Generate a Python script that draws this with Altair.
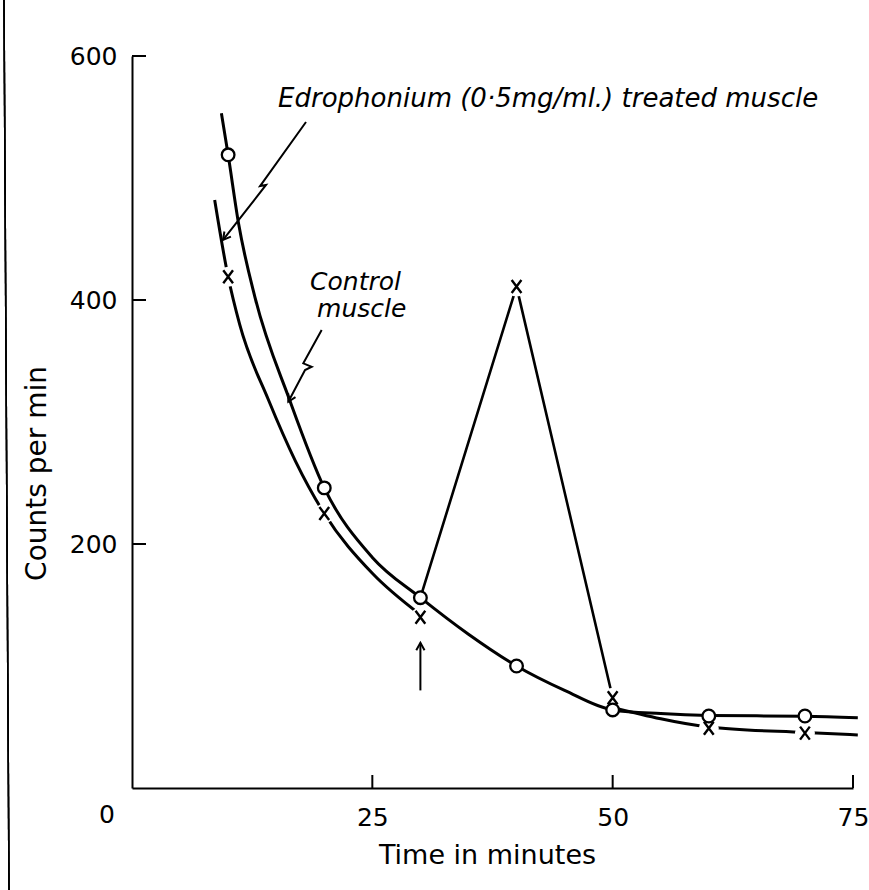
import altair as alt
import pandas as pd

# ---- measured points (minutes, counts per min) ----
time_min = [10, 20, 30, 40, 50, 60, 70]
control_counts = [519, 246, 156, 100, 64, 59, 59]          # open circles
edro_counts = [419, 225, 140, 411, 74, 49, 45]             # crosses

# ---- hand-drawn smooth curves ----
control_curve_t = [9.3, 10, 11.1, 12.8, 16.4, 20, 25, 30, 35, 40, 45, 50, 55, 60, 70, 75.5]
control_curve_c = [553, 519, 462, 402, 318, 246, 189, 156, 126, 100, 80, 64, 61, 59.5, 58.8, 57.5]
edro_curve_seg = ["a"] * 8 + ["b"] * 4
edro_curve_t = [8.6, 10, 11.2, 14.2, 17, 20, 25, 30, 50, 60, 70, 75.5]
edro_curve_c = [482, 419, 380, 318, 268, 225, 176, 142, 66, 50, 45.5, 43.5]

# ---- straight spike joining the crosses after the arrow ----
spike_t = [30, 40, 50]
spike_c = [156, 411, 74]

# ---- annotation arrows (data units) ----
arrow_id = ["edro", "edro", "edro", "edro", "ctrl", "ctrl", "ctrl", "ctrl", "ctrl", "add", "add"]
arrow_t = [18.10, 13.32, 13.94, 9.47, 19.73, 17.82, 18.69, 18.0, 16.26, 30, 30]
arrow_c = [545.9, 493.4, 494.3, 449.2, 375.4, 348.1, 345.3, 342.6, 316.6, 80, 119]
head_t = [9.47, 16.26, 30]
head_c = [449.2, 316.6, 119]
head_angle = [128, 118, 270]

# ---- texts ----
edro_label = "Edrophonium (0·5mg/ml.) treated muscle"
edro_label_t, edro_label_c = 15.19, 558
ctrl_label = ["Control", "muscle"]
ctrl_label_t = [18.52, 19.25]
ctrl_label_c = [408.5, 386]

x_ticks = [25, 50, 75]
y_ticks = [200, 400, 600]

W, H = 721, 732
FONT = "DejaVu Sans"

xs = alt.Scale(domain=[0, 75], nice=False, zero=False)
ys = alt.Scale(domain=[0, 600], nice=False, zero=False)

x_axis = alt.Axis(
    values=x_ticks, ticks=False, tickSize=0, grid=False, domainWidth=2, domainColor="black",
    labelFont=FONT, labelFontSize=25, labelColor="black", labelPadding=17,
    labelBaseline="top", labelFlush=False,
    title="Time in minutes", titleFont=FONT, titleFontSize=27, titleFontWeight="normal",
    titleColor="black", titleX=355, titleY=75, titleBaseline="alphabetic", titleAlign="center")
y_axis = alt.Axis(
    values=y_ticks, ticks=False, tickSize=0, grid=False, domainWidth=2, domainColor="black",
    labelFont=FONT, labelFontSize=25, labelColor="black", labelPadding=15, labelFlush=False,
    title="Counts per min", titleFont=FONT, titleFontSize=28, titleFontWeight="normal",
    titleColor="black", titleX=-87, titleY=417, titleAngle=270,
    titleBaseline="alphabetic", titleAlign="center")


def X(f):
    return alt.X(f, scale=xs, axis=x_axis, title="Time in minutes")


def Y(f):
    return alt.Y(f, scale=ys, axis=y_axis, title="Counts per min")


pts = pd.DataFrame({"t": time_min, "ctrl": control_counts, "edro": edro_counts})
ctrl_curve = pd.DataFrame({"t": control_curve_t, "c": control_curve_c})
edro_curve = pd.DataFrame({"t": edro_curve_t, "c": edro_curve_c, "seg": edro_curve_seg})
spike = pd.DataFrame({"t": spike_t, "c": spike_c})
arrows = pd.DataFrame({"id": arrow_id, "t": arrow_t, "c": arrow_c, "i": list(range(len(arrow_t)))})
heads = pd.DataFrame({"t": head_t, "c": head_c, "ang": head_angle})
xt = pd.DataFrame({"v": x_ticks})
yt = pd.DataFrame({"v": y_ticks})

border = alt.Chart(xt).mark_rule(color="black", strokeWidth=1.5).encode(
    x=alt.value(-128), x2=alt.value(-123), y=alt.value(-56), y2=alt.value(834))

ytick_marks = alt.Chart(yt).mark_rule(color="black", strokeWidth=2).encode(
    y=Y("v:Q"), x=alt.value(0), x2=alt.value(14))
xtick_marks = alt.Chart(xt).mark_rule(color="black", strokeWidth=2).encode(
    x=X("v:Q"), y=alt.value(H), y2=alt.value(H - 13))

zero_label = alt.Chart(pd.DataFrame({"t": [0], "c": [0], "s": ["0"]})).mark_text(
    font=FONT, fontSize=25, color="black", dx=-25, dy=27, baseline="middle", align="center"
).encode(x=X("t:Q"), y=Y("c:Q"), text="s:N")

edro_line = alt.Chart(edro_curve).mark_line(
    color="black", strokeWidth=3, interpolate="monotone").encode(
    x=X("t:Q"), y=Y("c:Q"), detail="seg:N")

spike_line = alt.Chart(spike).mark_line(color="black", strokeWidth=2.6).encode(
    x=X("t:Q"), y=Y("c:Q"))

halo = alt.Chart(pts).mark_point(
    shape="circle", filled=True, fill="white", stroke="white", size=324, opacity=1).encode(
    x=X("t:Q"), y=Y("edro:Q"))

ctrl_line = alt.Chart(ctrl_curve).mark_line(
    color="black", strokeWidth=3, interpolate="monotone").encode(
    x=X("t:Q"), y=Y("c:Q"))

arrow_lines = alt.Chart(arrows).mark_line(color="black", strokeWidth=2).encode(
    x=X("t:Q"), y=Y("c:Q"), detail="id:N", order=alt.Order("i:Q"))

arrow_heads = alt.Chart(heads).mark_point(
    shape="M-1,-0.55L0,0L-1,0.55", size=225, filled=False, stroke="black",
    strokeWidth=2, opacity=1).encode(
    x=X("t:Q"), y=Y("c:Q"), angle=alt.Angle("ang:Q", scale=None))

circles = alt.Chart(pts).mark_point(
    shape="circle", filled=True, fill="white", stroke="black", strokeWidth=2.3,
    size=160, opacity=1, fillOpacity=1).encode(
    x=X("t:Q"), y=Y("ctrl:Q"))

crosses = alt.Chart(pts).mark_point(
    shape="M-0.75,-1L0.75,1M0.75,-1L-0.75,1", size=169, filled=False,
    stroke="black", strokeWidth=2.4, opacity=1).encode(
    x=X("t:Q"), y=Y("edro:Q"))

edro_text = alt.Chart(pd.DataFrame({"t": [edro_label_t], "c": [edro_label_c], "s": [edro_label]})).mark_text(
    font=FONT, fontSize=26, fontStyle="italic", color="black", align="left", baseline="alphabetic"
).encode(x=X("t:Q"), y=Y("c:Q"), text="s:N")

ctrl_text = alt.Chart(pd.DataFrame({"t": ctrl_label_t, "c": ctrl_label_c, "s": ctrl_label})).mark_text(
    font=FONT, fontSize=25, fontStyle="italic", color="black", align="left", baseline="alphabetic"
).encode(x=X("t:Q"), y=Y("c:Q"), text="s:N")

chart = alt.layer(
    border, ytick_marks, xtick_marks, zero_label,
    edro_line, spike_line, halo, ctrl_line, arrow_lines, arrow_heads,
    circles, crosses, edro_text, ctrl_text,
).properties(
    width=W, height=H,
    autosize=alt.AutoSizeParams(type="none"),
    padding={"left": 132, "top": 56, "right": 16, "bottom": 102},
    background="white",
).configure_view(stroke=None)

chart.save("out.html", embed_options={"renderer": "svg", "actions": False})
